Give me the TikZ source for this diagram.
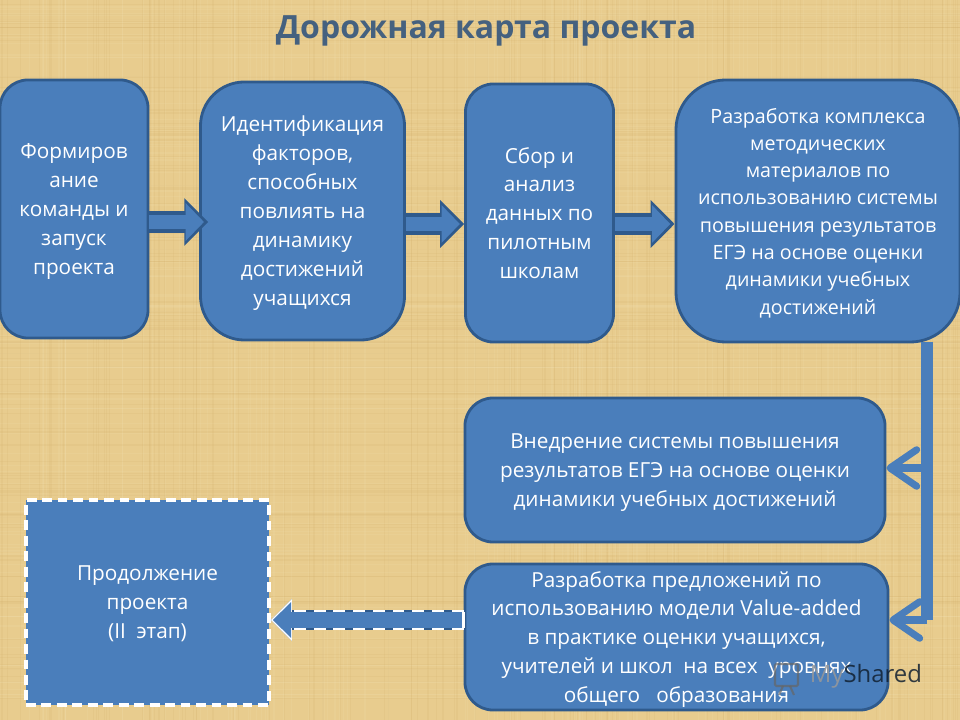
\documentclass[tikz,border=0pt]{standalone}
\usepackage{fontspec}
\setmainfont{Open Sans}
\usetikzlibrary{arrows.meta, positioning, calc}
\definecolor{paper}{HTML}{E8CC8E}
\definecolor{weavedark}{HTML}{C9A25C}
\definecolor{weavelight}{HTML}{F6E6B8}
\definecolor{boxblue}{HTML}{4A7EBB}
\definecolor{boxedge}{HTML}{2F5A8C}
\definecolor{titleblue}{HTML}{45617F}
\tikzset{
  stagebox/.style={draw=boxedge, line width=2pt, fill=boxblue, text=white, align=center,
    font=\fontsize{14.75}{20.6}\selectfont, text depth=-0.5pt},
  blockarrow/.style={draw=boxedge, line width=15pt, shorten >=#1,
    -{Triangle[length=17pt, width=33pt]},
    postaction={draw=boxblue, line width=10.5pt, shorten >=#1+3pt,
      -{Triangle[length=13pt, width=26pt]}}},
  blockarrow/.default=0pt,
  dashedarrow/.style={draw=white, line width=14pt, dash pattern=on 8.5pt off 5.5pt,
    -{Triangle[length=15pt, width=29pt]},
    preaction={draw=boxedge, solid, line width=14pt, -{Triangle[length=15pt, width=29pt]}},
    postaction={draw=boxblue, solid, line width=11.5pt, shorten >=1.5pt,
      -{Triangle[length=13pt, width=25pt]}}},
  barbarrow/.style={draw=boxblue, line width=5pt,
    -{Straight Barb[length=19pt, width=26pt, round]}},
}
\begin{document}
\begin{tikzpicture}[x=0.025cm, y=-0.025cm]
  \useasboundingbox (0,0) rectangle (960,720);
  % paper
  \fill[paper] (0,0) rectangle (960,720);
  \pgfmathsetseed{41}
  \foreach \i in {1,...,110} {
    \pgfmathsetmacro{\ya}{rnd*720}
    \pgfmathsetmacro{\xa}{rnd*960}
    \draw[weavedark, opacity=0.10, line width=0.8pt] (0,\ya) -- (960,\ya);
    \draw[weavedark, opacity=0.10, line width=0.8pt] (\xa,0) -- (\xa,720);
    \pgfmathsetmacro{\yb}{rnd*720}
    \pgfmathsetmacro{\xb}{rnd*960}
    \draw[weavelight, opacity=0.12, line width=0.8pt] (0,\yb) -- (960,\yb);
    \draw[weavelight, opacity=0.12, line width=0.8pt] (\xb,0) -- (\xb,720);
  }
  % title
  \node[text=titleblue, font=\fontsize{22.75}{28}\selectfont\bfseries] (title) at (486,31) {Дорожная карта проекта};
  % top row
  \node[stagebox, minimum width=3.7cm, minimum height=6.45cm, rounded corners=0.7cm] (team) at (74,209)
    {Формиров\\ание\\команды и\\запуск\\проекта};
  \node[stagebox, minimum width=5.1cm, minimum height=6.45cm, rounded corners=1.1cm] (factors) at (302.5,211)
    {Идентификация\\факторов,\\способных\\повлиять на\\динамику\\достижений\\учащихся};
  \node[stagebox, minimum width=3.7cm, minimum height=6.45cm, rounded corners=0.7cm] (data) at (539.5,213)
    {Сбор и\\анализ\\данных по\\пилотным\\школам};
  \node[stagebox, minimum width=7.1cm, minimum height=6.55cm, rounded corners=1.25cm,
    font=\fontsize{14}{19.4}\selectfont] (methods) at (818,211)
    {Разработка комплекса\\методических\\материалов по\\использованию системы\\повышения результатов\\ЕГЭ на основе оценки\\динамики учебных\\достижений};
  % lower boxes
  \node[stagebox, minimum width=10.5cm, minimum height=3.6cm, rounded corners=0.7cm] (rollout) at (675,470)
    {Внедрение системы повышения\\результатов ЕГЭ на основе оценки\\динамики учебных достижений};
  \node[stagebox, minimum width=10.575cm, minimum height=3.65cm, rounded corners=0.7cm] (valueadded) at (676.5,637)
    {Разработка предложений по\\использованию модели Value-added\\в практике оценки учащихся,\\учителей и школ~ на всех~ уровнях\\общего~~ образования};
  \node[stagebox, draw=white, dash pattern=on 7pt off 4pt, line width=2.5pt, minimum width=6.075cm, minimum height=5.125cm] (next) at (147.5,602.5)
    {Продолжение\\проекта\\(II~ этап)};
  % arrows
  \coordinate (drop) at (927,342);
  \coordinate (turnA) at (927,468);
  \coordinate (turnB) at (927,620);
  \coordinate (backB) at (turnB -| valueadded.west);
  \draw[blockarrow=-6.5pt] (team.east |- 0,222) -- (factors.west |- 0,222);
  \draw[blockarrow] (factors.east |- 0,224) -- (data.west |- 0,224);
  \draw[blockarrow] (data.east |- 0,224) -- (methods.west |- 0,224);
  \draw[draw=boxblue, line width=8pt] (drop) -- (turnB);
  \draw[barbarrow] (turnA) -- (turnA -| rollout.east);
  \draw[barbarrow] (turnB) -- (turnB -| valueadded.east);
  \draw[dashedarrow] (backB) -- (backB -| next.east);
  \draw[white, line width=2pt] ($(backB)+(0,-8)$) -- ($(backB)+(0,8)$);
  % watermark
  \node[text=black!40, opacity=0.85, font=\fontsize{17}{20}\selectfont, anchor=west] (mark) at (805,676) {My\textcolor{black!65!boxedge}{Shared}};
  \draw[black!60, opacity=0.7, line width=1.5pt, rounded corners=1pt] (775,664) rectangle (798,686);
  \draw[black!60, opacity=0.7, line width=1.5pt] (783,686) -- (779,695) (790,686) -- (794,695);
\end{tikzpicture}
\end{document}
